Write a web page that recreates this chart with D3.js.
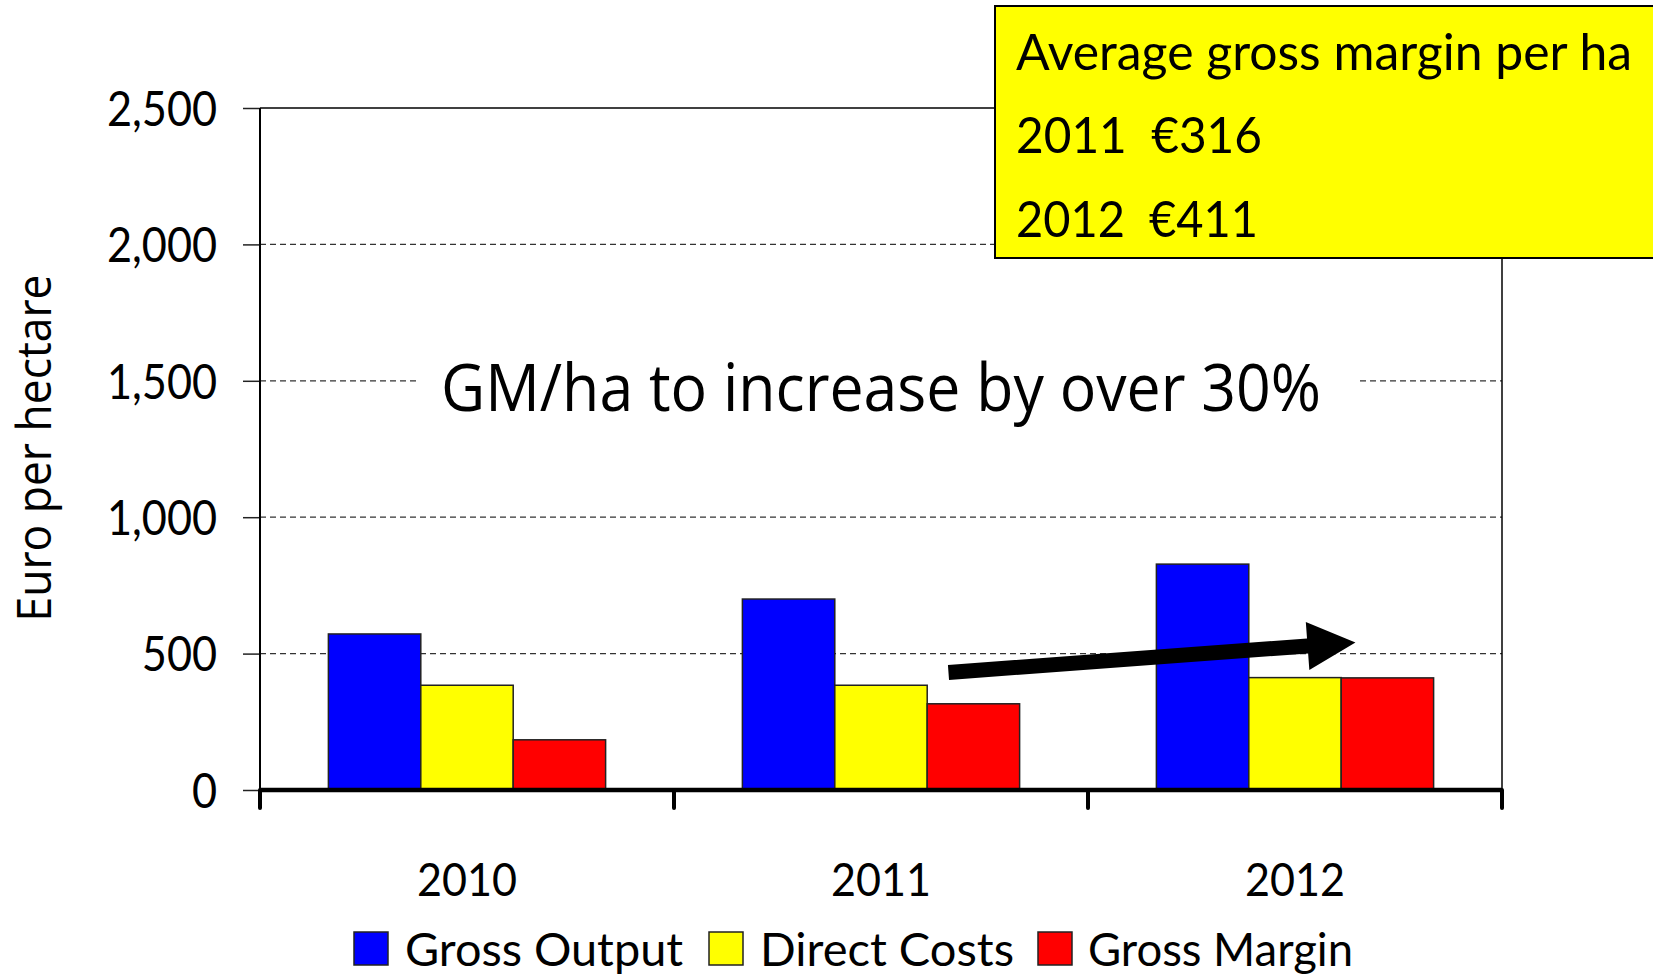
<!DOCTYPE html>
<html>
<head>
<meta charset="utf-8">
<script src="https://cdn.jsdelivr.net/npm/d3@7"></script>
<style>
  html, body { margin: 0; padding: 0; background: #fff; }
  svg { display: block; }
  text { white-space: pre; }
</style>
</head>
<body>
<svg id="chart" width="1653" height="976"></svg>
<script>
// ---- data ----
const categories = ["2010", "2011", "2012"];
const seriesNames = ["Gross Output", "Direct Costs", "Gross Margin"];
const grossOutput = [572, 700, 828];
const directCosts = [384, 384, 412];
const grossMargin = [184, 316, 411];
const yTicks = [0, 500, 1000, 1500, 2000, 2500];
const yLabel = "Euro per hectare";
const titleText = "GM/ha to increase by over 30%";
const boxLines = ["Average gross margin per ha", "2011  €316", "2012  €411"];
// arrow annotation (category, fraction within band, value)
const arrowFrom = { cat: "2011", frac: 0.663, value: 431 };
const arrowTo = { cat: "2012", frac: 0.646, value: 541 };

(function () {
const colors = { "Gross Output": "#0000FF", "Direct Costs": "#FFFF00", "Gross Margin": "#FF0000" };
const seriesValues = { "Gross Output": grossOutput, "Direct Costs": directCosts, "Gross Margin": grossMargin };

const gill = "'Gill Sans MT', 'Gill Sans', Lato, sans-serif";
const sans = "Tahoma, 'Open Sans', 'Noto Sans', sans-serif";

const svg = d3.select("#chart");

const pLeft = 260, pRight = 1502, pTop = 108, pBottom = 790;

const y = d3.scaleLinear().domain([0, 2500]).range([pBottom, pTop]);
const x0 = d3.scaleBand().domain(categories).range([pLeft, pRight]).padding(0);
const x1 = d3.scaleBand().domain(seriesNames).range([0, x0.bandwidth()]).paddingInner(0).paddingOuter(0.74);

function fit(sel, w) {
  sel.attr("textLength", w).attr("lengthAdjust", "spacingAndGlyphs");
}

// gridlines
svg.append("g").selectAll("line")
  .data(yTicks.filter(d => d > 0 && d < 2500))
  .join("line")
  .attr("x1", pLeft).attr("x2", pRight)
  .attr("y1", d => y(d)).attr("y2", d => y(d))
  .attr("stroke", "#333").attr("stroke-width", 1.3)
  .attr("stroke-dasharray", "6,4");

// plot border top & right
svg.append("line").attr("x1", pLeft).attr("x2", pRight).attr("y1", y(2500)).attr("y2", y(2500))
  .attr("stroke", "#000").attr("stroke-width", 1.5);
svg.append("line").attr("x1", pRight).attr("x2", pRight).attr("y1", y(2500)).attr("y2", pBottom)
  .attr("stroke", "#000").attr("stroke-width", 1.5);

// y axis
const yAxis = svg.append("g").attr("transform", `translate(${pLeft},0)`)
  .call(d3.axisLeft(y).tickValues(yTicks).tickSize(17).tickPadding(26)
    .tickFormat(d3.format(",")));
yAxis.select(".domain").remove();
yAxis.selectAll(".tick line").attr("stroke", "#222").attr("stroke-width", 1.5);
yAxis.selectAll(".tick text")
  .attr("font-family", gill).attr("font-size", 48).attr("fill", "#000")
  .attr("dy", "0.36em")
  .each(function () {
    const w = this.getComputedTextLength();
    d3.select(this).call(fit, w * 0.9);
  });
svg.append("line").attr("x1", pLeft).attr("x2", pLeft).attr("y1", y(2500)).attr("y2", pBottom + 18)
  .attr("stroke", "#000").attr("stroke-width", 2);

// bars
const groups = svg.append("g").selectAll("g")
  .data(categories)
  .join("g")
  .attr("transform", d => `translate(${x0(d)},0)`);

groups.selectAll("rect")
  .data((c, i) => seriesNames.map(s => ({ s, v: seriesValues[s][i] })))
  .join("rect")
  .attr("x", d => x1(d.s))
  .attr("width", x1.bandwidth())
  .attr("y", d => y(d.v))
  .attr("height", d => y(0) - y(d.v))
  .attr("fill", d => colors[d.s])
  .attr("stroke", "#222").attr("stroke-width", 1.5);

// x axis (thick) with category boundary ticks
svg.append("line").attr("x1", pLeft).attr("x2", pRight).attr("y1", pBottom).attr("y2", pBottom)
  .attr("stroke", "#000").attr("stroke-width", 4.5);
const bounds = categories.map(c => x0(c)).concat([x0(categories[categories.length - 1]) + x0.bandwidth()]);
svg.append("g").selectAll("line").data(bounds).join("line")
  .attr("x1", d => d).attr("x2", d => d)
  .attr("y1", pBottom).attr("y2", pBottom + 18)
  .attr("stroke", "#000").attr("stroke-width", 4).attr("stroke-linecap", "round");

svg.append("g").selectAll("text").data(categories).join("text")
  .attr("x", d => x0(d) + x0.bandwidth() / 2)
  .attr("y", 896)
  .attr("text-anchor", "middle")
  .attr("font-family", gill).attr("font-size", 47)
  .text(d => d)
  .call(fit, 100);

// y label
svg.append("text")
  .attr("transform", "translate(51,448) rotate(-90)")
  .attr("text-anchor", "middle")
  .attr("font-family", sans).attr("font-size", 47)
  .text(yLabel)
  .call(fit, 347);

// title with white background
svg.append("rect").attr("x", 419).attr("y", 345).attr("width", 938).attr("height", 80).attr("fill", "#fff");
svg.append("text")
  .attr("x", 441).attr("y", 411)
  .attr("font-family", sans).attr("font-size", 65)
  .text(titleText)
  .call(fit, 880);

// arrow
(function () {
  const sx = x0(arrowFrom.cat) + arrowFrom.frac * x0.bandwidth(), sy = y(arrowFrom.value);
  const ex = x0(arrowTo.cat) + arrowTo.frac * x0.bandwidth(), ey = y(arrowTo.value);
  const dx = ex - sx, dy = ey - sy, L = Math.hypot(dx, dy);
  const ux = dx / L, uy = dy / L, nx = -uy, ny = ux;
  const hw = 7.5, headLen = 48, headW = 24;
  const bx = ex - ux * headLen, by = ey - uy * headLen;
  const pts = [
    [sx + nx * hw, sy + ny * hw],
    [bx + nx * hw, by + ny * hw],
    [bx + nx * headW, by + ny * headW],
    [ex, ey],
    [bx - nx * headW, by - ny * headW],
    [bx - nx * hw, by - ny * hw],
    [sx - nx * hw, sy - ny * hw]
  ];
  svg.append("path").attr("d", d3.line()(pts) + "Z").attr("fill", "#000");
})();

// yellow box
svg.append("rect").attr("x", 995).attr("y", 6).attr("width", 700).attr("height", 252)
  .attr("fill", "#FFFF00").attr("stroke", "#000").attr("stroke-width", 2);
const boxY = [70, 153, 237];
const boxW = [616, 246, 242];
svg.append("g").selectAll("text").data(boxLines).join("text")
  .attr("x", 1016).attr("y", (d, i) => boxY[i])
  .attr("font-family", gill).attr("font-size", 51)
  .text(d => d)
  .each(function (d, i) { d3.select(this).call(fit, boxW[i]); });

// legend
const legX = [354, 709, 1038];
const legTX = [405, 760, 1088];
const legW = [278, 254, 265];
const leg = svg.append("g");
leg.selectAll("rect").data(seriesNames).join("rect")
  .attr("x", (d, i) => legX[i]).attr("y", 932).attr("width", 34).attr("height", 33)
  .attr("fill", d => colors[d]).attr("stroke", "#222").attr("stroke-width", 1.5);
leg.selectAll("text").data(seriesNames).join("text")
  .attr("x", (d, i) => legTX[i]).attr("y", 966)
  .attr("font-family", gill).attr("font-size", 46)
  .text(d => d)
  .each(function (d, i) { d3.select(this).call(fit, legW[i]); });
})();
</script>
</body>
</html>
